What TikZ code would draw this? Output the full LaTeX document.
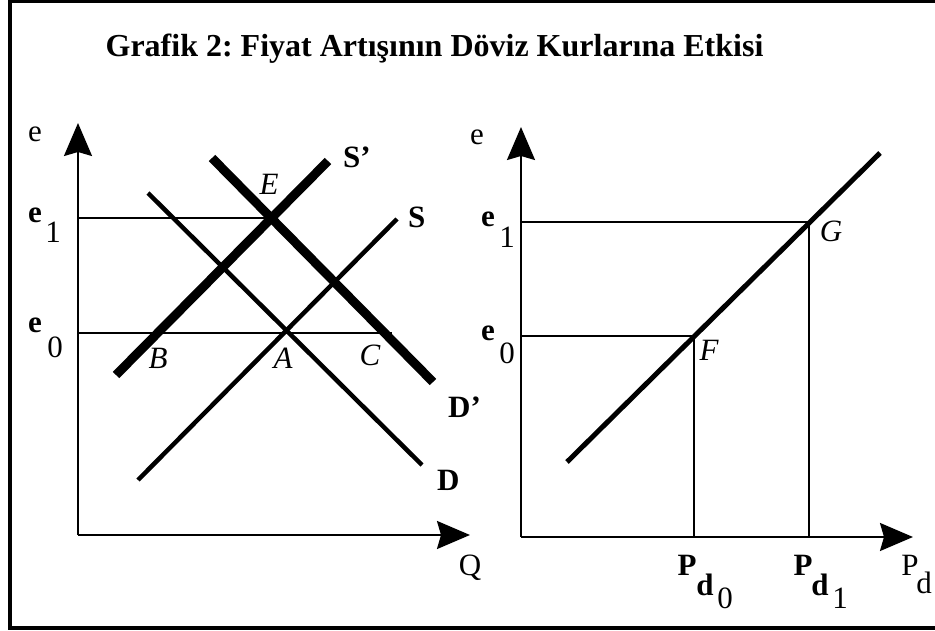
\documentclass[tikz,border=0pt]{standalone}
\usepackage{fontspec}
\setmainfont{Liberation Serif}
\usetikzlibrary{arrows.meta}
\frenchspacing

\begin{document}
\begin{tikzpicture}[x=1pt,y=-1pt,
  lbl/.style={font=\fontsize{31}{36}\selectfont,inner sep=0pt,anchor=base},
  blbl/.style={lbl,font=\fontsize{31}{36}\selectfont\bfseries},
  ptlbl/.style={lbl,font=\fontsize{31}{36}\selectfont\itshape},
  axis/.style={line width=2pt,-{Stealth[length=33pt,width=28pt,inset=4pt]}},
  guide/.style={line width=2pt},
  curve/.style={line width=4.5pt},
  shifted/.style={line width=9pt},
  link/.style={line width=5pt}
]
  \useasboundingbox (0,0) rectangle (935,631);
  \draw[line width=4pt] (9.5,1.5) rectangle (945,627.5);

  \node[lbl,font=\fontsize{32}{38}\selectfont\bfseries] (title) at (434.5,57)
    {Grafik 2: Fiyat Artışının Döviz Kurlarına Etkisi};

  % left panel: market for foreign exchange
  \coordinate (oL) at (78,535);
  \coordinate (e1L) at (78,218);
  \coordinate (e0L) at (78,333);
  \coordinate (ptE) at (272,218);
  \coordinate (ptC) at (392,333);
  \draw[axis] (oL) -- (78,123);
  \draw[axis] (oL) -- (470,535);
  \draw[guide] (e1L) -- (ptE);
  \draw[guide] (e0L) -- (ptC);

  \coordinate (sBot) at (138,480);
  \coordinate (sTop) at (397,219);
  \coordinate (dTop) at (148,193);
  \coordinate (dBot) at (422,465);
  \coordinate (s2Bot) at (116,375);
  \coordinate (s2Top) at (328,161);
  \coordinate (d2Top) at (212,158);
  \coordinate (d2Bot) at (433,382);
  \draw[curve] (sBot) -- (sTop);
  \draw[curve] (dTop) -- (dBot);
  \draw[shifted] (s2Bot) -- (s2Top);
  \draw[shifted] (d2Top) -- (d2Bot);

  \node[lbl] (eL) at (35,142) {e};
  \node[blbl] (e1Lb) at (35,223) {e};
  \node[lbl] (e1Ls) at (53,243) {1};
  \node[blbl] (e0Lb) at (35,333) {e};
  \node[lbl] (e0Ls) at (55,357) {0};
  \node[lbl] (qL) at (470,575) {Q};
  \node[blbl,anchor=base west] (s2Lab) at (343,168) {S’};
  \node[blbl,anchor=base west] (sLab) at (408,228) {S};
  \node[blbl,anchor=base west] (d2Lab) at (448,417) {D’};
  \node[blbl,anchor=base west] (dLab) at (437,490) {D};
  \node[ptlbl] (labE) at (269,195) {E};
  \node[ptlbl] (labB) at (158,368) {B};
  \node[ptlbl] (labA) at (283,368) {A};
  \node[ptlbl] (labC) at (370,365) {C};

  % right panel: exchange rate vs domestic prices
  \coordinate (oR) at (521,537);
  \coordinate (e1R) at (521,222);
  \coordinate (e0R) at (521,336);
  \coordinate (ptG) at (809,222);
  \coordinate (ptF) at (694,336);
  \draw[axis] (oR) -- (521,127);
  \draw[axis] (oR) -- (913,537);
  \draw[guide] (e1R) -- (ptG) -- (ptG |- oR);
  \draw[guide] (e0R) -- (ptF) -- (ptF |- oR);
  \draw[link] (567,462) -- (880,153);

  \node[lbl] (eR) at (477,145) {e};
  \node[blbl] (e1Rb) at (488,227) {e};
  \node[lbl] (e1Rs) at (507,248) {1};
  \node[blbl] (e0Rb) at (488,340) {e};
  \node[lbl] (e0Rs) at (507,363) {0};
  \node[ptlbl] (labG) at (831,242) {G};
  \node[ptlbl] (labF) at (709,360) {F};

  \node[blbl] (p0P) at (687,575) {P};
  \node[blbl] (p0d) at (705,595) {d};
  \node[lbl] (p0s) at (725,608) {0};
  \node[blbl] (p1P) at (803,575) {P};
  \node[blbl] (p1d) at (820,595) {d};
  \node[lbl] (p1s) at (840,608) {1};
  \node[lbl] (pdP) at (910,575) {P};
  \node[lbl] (pdd) at (924,593) {d};
\end{tikzpicture}
\end{document}
